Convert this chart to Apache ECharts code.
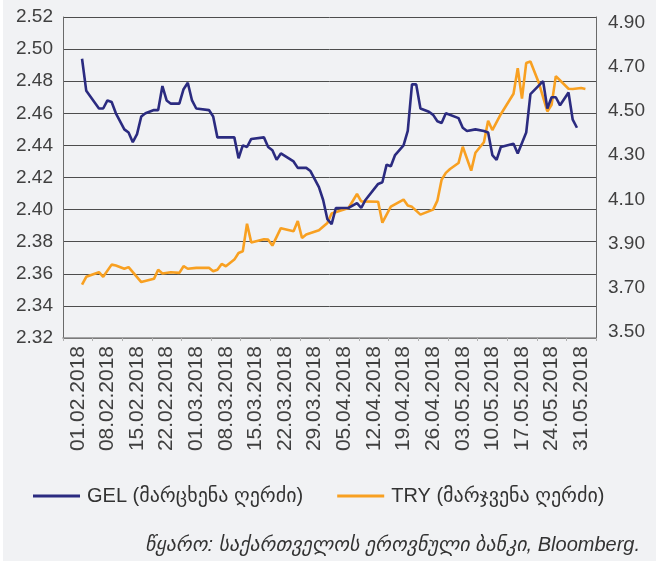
<!DOCTYPE html>
<html>
<head>
<meta charset="utf-8">
<script src="https://cdn.jsdelivr.net/npm/echarts@6/dist/echarts.min.js"></script>
<style>
html, body { margin: 0; padding: 0; background: #fff; }
#chart { width: 664px; height: 561px; }
</style>
</head>
<body>
<div id="chart"></div>
<script>
// weekly labels on the date axis
var xLabels = ['01.02.2018', '08.02.2018', '15.02.2018', '22.02.2018', '01.03.2018', '08.03.2018',
  '15.03.2018', '22.03.2018', '29.03.2018', '05.04.2018', '12.04.2018', '19.04.2018', '26.04.2018',
  '03.05.2018', '10.05.2018', '17.05.2018', '24.05.2018', '31.05.2018']

// GEL / USD (left axis)
var gelDates = ['02.02.2018', '03.02.2018', '06.02.2018', '07.02.2018', '08.02.2018', '09.02.2018', '10.02.2018',
  '12.02.2018', '13.02.2018', '14.02.2018', '15.02.2018', '16.02.2018', '17.02.2018', '19.02.2018', '20.02.2018',
  '21.02.2018', '22.02.2018', '23.02.2018', '25.02.2018', '26.02.2018', '27.02.2018', '28.02.2018', '01.03.2018',
  '04.03.2018', '05.03.2018', '06.03.2018', '10.03.2018', '11.03.2018', '12.03.2018', '13.03.2018', '14.03.2018',
  '17.03.2018', '18.03.2018', '19.03.2018', '20.03.2018', '21.03.2018', '24.03.2018', '25.03.2018', '27.03.2018',
  '28.03.2018', '29.03.2018', '30.03.2018', '31.03.2018', '01.04.2018', '02.04.2018', '03.04.2018', '06.04.2018',
  '08.04.2018', '09.04.2018', '10.04.2018', '13.04.2018', '14.04.2018', '15.04.2018', '16.04.2018', '17.04.2018',
  '19.04.2018', '20.04.2018', '21.04.2018', '22.04.2018', '23.04.2018', '25.04.2018', '26.04.2018', '27.04.2018',
  '28.04.2018', '29.04.2018', '02.05.2018', '03.05.2018', '04.05.2018', '06.05.2018', '08.05.2018', '09.05.2018',
  '10.05.2018', '11.05.2018', '12.05.2018', '15.05.2018', '16.05.2018', '18.05.2018', '19.05.2018', '22.05.2018',
  '23.05.2018', '24.05.2018', '25.05.2018', '26.05.2018', '28.05.2018', '29.05.2018', '30.05.2018']
var gelValues = [2.494, 2.474, 2.463, 2.463, 2.468, 2.467, 2.460,
  2.450, 2.448, 2.442, 2.447, 2.458, 2.460, 2.462, 2.462,
  2.477, 2.468, 2.466, 2.466, 2.475, 2.479, 2.468, 2.463,
  2.462, 2.458, 2.445, 2.445, 2.432, 2.440, 2.439, 2.444,
  2.445, 2.439, 2.437, 2.431, 2.435, 2.430, 2.426, 2.426,
  2.424, 2.419, 2.414, 2.406, 2.394, 2.391, 2.401, 2.401,
  2.404, 2.401, 2.406, 2.416, 2.417, 2.428, 2.427, 2.434,
  2.440, 2.449, 2.478, 2.478, 2.463, 2.461, 2.459, 2.455,
  2.454, 2.460, 2.457, 2.451, 2.449, 2.450, 2.449, 2.448,
  2.434, 2.431, 2.439, 2.441, 2.435, 2.448, 2.472, 2.480,
  2.463, 2.470, 2.470, 2.465, 2.473, 2.456, 2.451]

// TRY / USD (right axis)
var tryDates = ['02.02.2018', '03.02.2018', '06.02.2018', '07.02.2018', '09.02.2018', '10.02.2018', '12.02.2018',
  '13.02.2018', '16.02.2018', '19.02.2018', '20.02.2018', '21.02.2018', '23.02.2018', '25.02.2018', '26.02.2018',
  '27.02.2018', '01.03.2018', '04.03.2018', '05.03.2018', '06.03.2018', '07.03.2018', '08.03.2018', '10.03.2018',
  '11.03.2018', '12.03.2018', '13.03.2018', '14.03.2018', '17.03.2018', '18.03.2018', '19.03.2018', '21.03.2018',
  '24.03.2018', '25.03.2018', '26.03.2018', '27.03.2018', '30.03.2018', '01.04.2018', '02.04.2018', '06.04.2018',
  '08.04.2018', '09.04.2018', '13.04.2018', '14.04.2018', '16.04.2018', '19.04.2018', '20.04.2018', '21.04.2018',
  '23.04.2018', '26.04.2018', '27.04.2018', '28.04.2018', '29.04.2018', '30.04.2018', '02.05.2018', '03.05.2018',
  '05.05.2018', '06.05.2018', '08.05.2018', '09.05.2018', '10.05.2018', '12.05.2018', '15.05.2018', '16.05.2018',
  '17.05.2018', '18.05.2018', '19.05.2018', '21.05.2018', '23.05.2018', '24.05.2018', '25.05.2018', '28.05.2018',
  '29.05.2018', '31.05.2018', '01.06.2018']
var tryValues = [3.733, 3.767, 3.787, 3.767, 3.820, 3.816, 3.802,
  3.809, 3.744, 3.758, 3.798, 3.781, 3.787, 3.784, 3.813,
  3.802, 3.806, 3.806, 3.791, 3.798, 3.823, 3.813, 3.842,
  3.871, 3.878, 3.998, 3.917, 3.931, 3.929, 3.903, 3.979,
  3.966, 4.010, 3.936, 3.951, 3.970, 4.002, 4.043, 4.067,
  4.128, 4.096, 4.094, 4.003, 4.073, 4.104, 4.078, 4.072,
  4.038, 4.060, 4.099, 4.190, 4.220, 4.237, 4.263, 4.334,
  4.230, 4.308, 4.354, 4.447, 4.407, 4.476, 4.565, 4.677,
  4.544, 4.699, 4.706, 4.612, 4.488, 4.517, 4.642, 4.587,
  4.586, 4.590, 4.586]

var rightTicks = [3.5, 3.7, 3.9, 4.1, 4.3, 4.5, 4.7, 4.9]

var gelName = 'GEL (მარცხენა ღერძი)'
var tryName = 'TRY (მარჯვენა ღერძი)'
var font = "'Liberation Sans', 'DejaVu Sans', sans-serif"

function pad(n) {
  return n < 10 ? '0' + n : '' + n
}

// every calendar day, Monday 29.01 to Sunday 03.06
var days = []
for (var i = 0; i < 126; i++) {
  var dt = new Date(2018, 0, 29 + i)
  days.push(pad(dt.getDate()) + '.' + pad(dt.getMonth() + 1) + '.2018')
}

function toPoints(dates, values) {
  return dates.map(function (d, i) {
    return [days.indexOf(d), values[i]]
  })
}

var chart = echarts.init(document.getElementById('chart'), null, { renderer: 'canvas' })

var option = {
  backgroundColor: '#ffffff',
  animation: false,
  textStyle: { fontFamily: font },
  graphic: [{
    type: 'rect',
    z: -10,
    shape: { x: 3, y: 0, width: 653, height: 561 },
    style: { fill: '#f1f2f4' }
  }],
  title: {
    text: 'წყარო: საქართველოს ეროვნული ბანკი, Bloomberg.',
    right: 24,
    top: 535,
    padding: 0,
    textStyle: {
      fontFamily: font,
      fontSize: 20,
      fontStyle: 'italic',
      fontWeight: 'normal',
      color: '#333'
    }
  },
  legend: {
    left: 33,
    top: 486,
    padding: 0,
    itemGap: 34,
    itemWidth: 47,
    itemHeight: 3,
    icon: 'rect',
    data: [gelName, tryName],
    textStyle: { fontFamily: font, fontSize: 20, color: '#333', padding: [0, 0, 0, 2] }
  },
  grid: {
    left: 63,
    right: 68,
    top: 17,
    bottom: 223,
    outerBoundsMode: 'none',
    containLabel: false
  },
  xAxis: {
    type: 'category',
    data: days,
    boundaryGap: true,
    axisLine: { show: true, lineStyle: { color: '#8a8a8a', width: 1.5 } },
    axisTick: {
      show: true,
      length: 3,
      interval: function (index) { return index % 7 === 0 },
      lineStyle: { color: '#b0b0b0' }
    },
    axisLabel: {
      rotate: 90,
      margin: 8,
      fontSize: 21,
      color: '#404040',
      fontFamily: font,
      interval: function (index, value) { return xLabels.indexOf(value) >= 0 }
    },
    splitLine: { show: false }
  },
  yAxis: [{
    type: 'value',
    position: 'left',
    min: 2.32,
    max: 2.52,
    interval: 0.02,
    axisLine: { show: true, lineStyle: { color: '#6a6a6a' } },
    axisTick: { show: false },
    axisLabel: {
      margin: 10,
      fontSize: 19,
      color: '#404040',
      fontFamily: font,
      formatter: function (v) { return v.toFixed(2) }
    },
    splitLine: { show: true, lineStyle: { color: '#4d4d4d', width: 1 } }
  }, {
    // TRY scale
    type: 'value',
    position: 'right',
    min: 3.5,
    max: 4.9,
    axisLine: { show: true, lineStyle: { color: '#6a6a6a' } },
    axisTick: { show: false },
    axisLabel: { show: false },
    splitLine: { show: false }
  }, {
    // right-hand tick labels only
    type: 'value',
    position: 'right',
    min: 3.474,
    max: 4.924,
    axisLine: { show: false },
    axisTick: { show: false },
    axisLabel: {
      margin: 12,
      fontSize: 19,
      color: '#404040',
      fontFamily: font,
      customValues: rightTicks,
      formatter: function (v) { return v.toFixed(2) }
    },
    splitLine: { show: false }
  }],
  series: [{
    name: gelName,
    type: 'line',
    yAxisIndex: 0,
    data: toPoints(gelDates, gelValues),
    symbol: 'none',
    lineStyle: { color: '#2b2b80', width: 2.6 },
    itemStyle: { color: '#2b2b80' },
    z: 3
  }, {
    name: tryName,
    type: 'line',
    yAxisIndex: 1,
    data: toPoints(tryDates, tryValues),
    symbol: 'none',
    lineStyle: { color: '#f8a021', width: 2.6 },
    itemStyle: { color: '#f8a021' },
    z: 2
  }]
}

chart.setOption(option)
</script>
</body>
</html>
